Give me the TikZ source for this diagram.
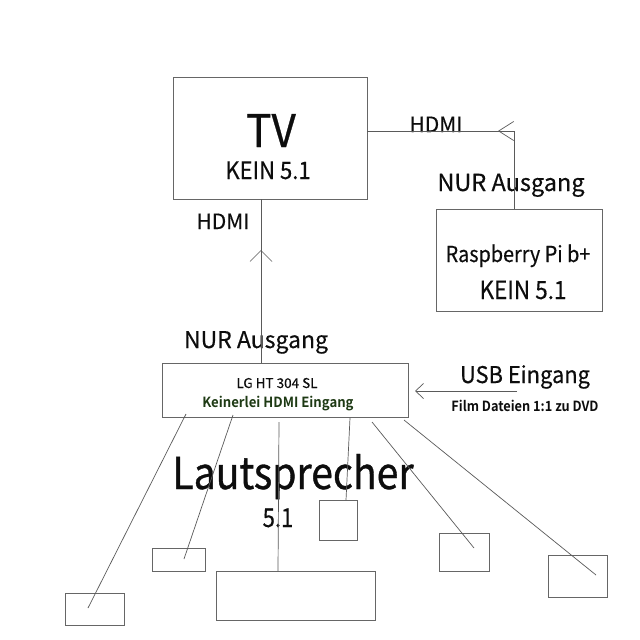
\documentclass[tikz,border=0pt]{standalone}
\usepackage{fontspec}
\setmainfont{Noto Sans CJK KR}[BoldFont={Noto Sans CJK KR Bold},FakeBold=0.3]
\newfontfamily\sqNinetyFour{Noto Sans CJK KR}[FakeStretch=0.94,FakeBold=0.6]
\newfontfamily\sqNinetyTwo{Noto Sans CJK KR}[FakeStretch=0.92,FakeBold=0.4]
\newfontfamily\sqNinety{Noto Sans CJK KR}[FakeStretch=0.90,FakeBold=0.4]
\newfontfamily\sqEightyNine{Noto Sans CJK KR}[FakeStretch=0.89,FakeBold=0.8]
\newfontfamily\sqEightyFive{Noto Sans CJK KR}[FakeStretch=0.85,FakeBold=0.4]
\newfontfamily\sqNinetyFive{Noto Sans CJK KR}[FakeStretch=0.95,FakeBold=0.4]
\newfontfamily\bsqNinetyFour{Noto Sans CJK KR Bold}[FakeStretch=0.94]
\newfontfamily\bsqNinetyOne{Noto Sans CJK KR Bold}[FakeStretch=0.91]
\usetikzlibrary{arrows.meta,decorations.markings}
\definecolor{linegray}{HTML}{5A5A5A}
\definecolor{boxgray}{HTML}{666666}
\definecolor{darkgreen}{HTML}{1E3A14}
\begin{document}
\begin{tikzpicture}[x=1pt,y=-1pt,
  box/.style={draw=boxgray,line width=0.9pt,inner sep=0pt,outer sep=0pt},
  wire/.style={draw=linegray,line width=0.7pt},
  lbl/.style={anchor=base,inner sep=0pt,text=black!95}]
\useasboundingbox[fill=white] (0,0) rectangle (640,640);
% main boxes
\node[box,minimum width=194pt,minimum height=122pt] (tv) at (270,138) {};
\node[box,minimum width=166pt,minimum height=102pt] (rasp) at (519,260) {};
\node[box,minimum width=246pt,minimum height=54pt] (lg) at (285,390) {};
% speakers
\node[box,minimum width=59pt,minimum height=32pt] (spkA) at (94.5,609) {};
\node[box,minimum width=53pt,minimum height=23pt] (spkB) at (178.5,559.5) {};
\node[box,minimum width=159pt,minimum height=49pt] (spkC) at (295.5,595.5) {};
\node[box,minimum width=38pt,minimum height=40pt] (spkD) at (338,520) {};
\node[box,minimum width=50pt,minimum height=38pt] (spkE) at (464,552) {};
\node[box,minimum width=59pt,minimum height=42pt] (spkF) at (577.5,576) {};
% texts
\node[lbl,font=\sqNinetyFour\fontsize{45}{45}\selectfont] (tvT) at (271,147) {TV};
\node[lbl,font=\sqNinetyTwo\fontsize{24}{24}\selectfont] (tvK) at (268,179) {KEIN 5.1};
\node[lbl,font=\fontsize{21}{21}\selectfont] (hdmiR) at (436,132) {HDMI};
\node[lbl,font=\fontsize{23.5}{23.5}\selectfont] (nurR) at (511,191) {NUR Ausgang};
\node[lbl,font=\sqNinety\fontsize{22}{22}\selectfont] (raspT) at (518,262) {Raspberry Pi b+};
\node[lbl,font=\sqNinety\fontsize{25}{25}\selectfont] (raspK) at (523,299) {KEIN 5.1};
\node[lbl,font=\fontsize{21}{21}\selectfont] (hdmiV) at (223,229) {HDMI};
\node[lbl,font=\fontsize{23}{23}\selectfont] (nurV) at (256,348) {NUR Ausgang};
\node[lbl,font=\fontsize{13.5}{13.5}\selectfont] (lgT) at (277,388) {LG HT 304 SL};
\node[lbl,font=\bsqNinetyFour\fontsize{14}{14}\selectfont,text=darkgreen] (lgK) at (278,407) {Keinerlei HDMI Eingang};
\node[lbl,font=\sqNinetyFive\fontsize{23}{23}\selectfont] (usbT) at (525,383) {USB Eingang};
\node[lbl,font=\bsqNinetyOne\fontsize{14}{14}\selectfont] (film) at (525,411) {Film Dateien 1:1 zu DVD};
\node[lbl,font=\sqEightyNine\fontsize{44}{44}\selectfont] (laut) at (293,489) {Lautsprecher};
\node[lbl,font=\sqEightyFive\fontsize{26}{26}\selectfont] (five) at (278,527) {5.1};
% HDMI Raspberry -> TV
\coordinate (hd) at (514,131);
\draw[wire,postaction={decorate},decoration={markings,
  mark=at position 94pt with {\arrow{Straight Barb[length=15pt,width=19pt]}}}]
  (rasp.north -| hd) -- (hd) -- (tv.east |- hd);
% HDMI LG -> TV
\coordinate (hv) at (261,300);
\draw[wire,postaction={decorate},decoration={markings,
  mark=at position 113pt with {\arrow{Straight Barb[length=11pt,width=22pt]}}}]
  (lg.north -| hv) -- (tv.south -| hv);
% USB -> LG
\coordinate (usb) at (517,391);
\draw[wire,-{Straight Barb[length=8pt,width=15pt]},shorten >=7pt] (usb) -- (lg.east |- usb);
% speaker wires
\coordinate (a1) at (186,414); \coordinate (a2) at (88,608);
\coordinate (b1) at (233,415); \coordinate (b2) at (184,559);
\coordinate (c1) at (279,422);
\coordinate (d1) at (350,418);
\coordinate (e1) at (372,422); \coordinate (e2) at (474,548);
\coordinate (f1) at (404,420); \coordinate (f2) at (596,575);
\draw[wire] (a1) -- (a2);
\draw[wire] (b1) -- (b2);
\draw[wire] (c1) -- (spkC.north -| 278,0);
\draw[wire] (d1) -- (spkD.north -| 346,0);
\draw[wire] (e1) -- (e2);
\draw[wire] (f1) -- (f2);
\end{tikzpicture}
\end{document}
